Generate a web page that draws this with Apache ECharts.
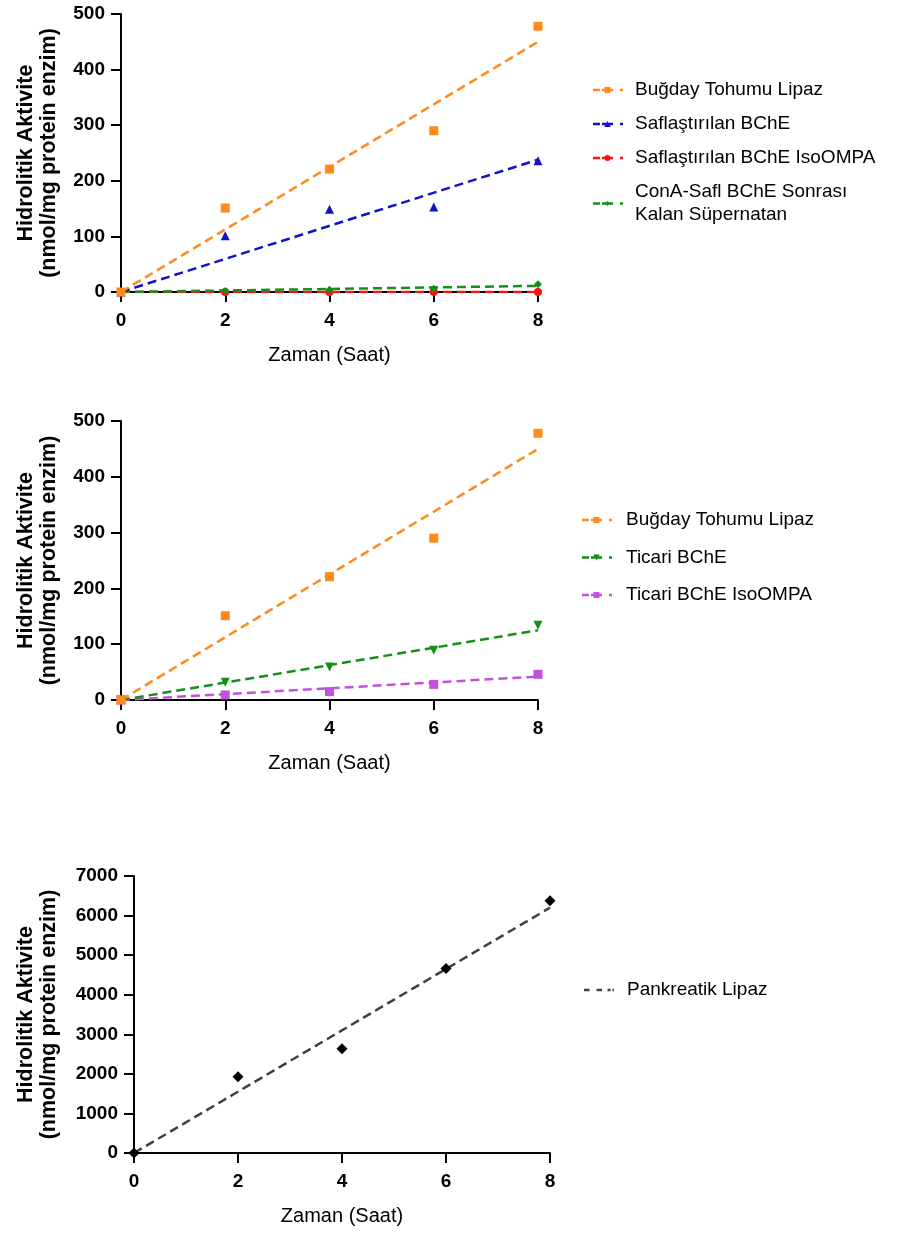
<!DOCTYPE html>
<html>
<head>
<meta charset="utf-8">
<script src="https://cdn.jsdelivr.net/npm/echarts@6/dist/echarts.min.js"></script>
<style>
html,body{margin:0;padding:0;background:#fff;}
#c{width:900px;height:1233px;}
</style>
</head>
<body>
<div id="c"></div>
<script>
// ---------- data ----------
var hours = [0, 2, 4, 6, 8];
var fitHours = [0, 8];

// chart 1
var bugdayLipaz = [0, 151, 221, 290, 478];
var saflBChE = [0, 101, 149, 153, 236];
var saflBChEIso = [0, 0, 0, 0, 0];
var conASupernatan = [0, 2, 4, 6, 14];
var fitBugday = [0, 450];
var fitSaflBChE = [0, 238];
var fitSaflIso = [0, 0];
var fitConA = [0, 11];

// chart 2
var ticariBChE = [0, 32, 59, 89, 134];
var ticariBChEIso = [0, 9, 15, 28, 46];
var fitTicari = [0, 125];
var fitTicariIso = [0, 42];

// chart 3
var pankreatikLipaz = [0, 1925, 2635, 4660, 6375];
var fitPankreatik = [0, 6200];

var xTicks = [0, 2, 4, 6, 8];
var yTicks12 = [0, 100, 200, 300, 400, 500];
var yTicks3 = [0, 1000, 2000, 3000, 4000, 5000, 6000, 7000];

var N1 = 'Buğday Tohumu Lipaz';
var N2 = 'Saflaştırılan BChE';
var N3 = 'Saflaştırılan BChE IsoOMPA';
var N4 = 'ConA-Safl BChE Sonrası\nKalan Süpernatan';
var N5 = 'Ticari BChE';
var N6 = 'Ticari BChE IsoOMPA';
var N7 = 'Pankreatik Lipaz';

// ---------- styles ----------
var FONT = '"Liberation Sans", Arial, sans-serif';
var C = {
  orange: '#FF8A1A',
  blue: '#1212C8',
  red: '#FF1010',
  green: '#12901A',
  purple: '#C052DE',
  black: '#000000',
  gray: '#404040'
};

function pts(vals) { return hours.map(function (h, i) { return [h, vals[i]]; }); }
function fit(vals) { return fitHours.map(function (h, i) { return [h, vals[i]]; }); }

var DASHES = 'M0 3.5 L14 3.5 L14 8.5 L0 8.5 Z M18 3.5 L40 3.5 L40 8.5 L18 8.5 Z M54 3.5 L60 3.5 L60 8.5 L54 8.5 Z ';
var ICON = {
  square: 'path://' + DASHES + 'M23 0 L35 0 L35 12 L23 12 Z',
  triUp: 'path://' + DASHES + 'M29 0 L35.5 12 L22.5 12 Z',
  triDown: 'path://' + DASHES + 'M22.5 0 L35.5 0 L29 12 Z',
  circle: 'path://' + DASHES + 'M23 6 A6 6 0 1 1 35 6 A6 6 0 1 1 23 6 Z',
  diamond: 'path://' + DASHES + 'M29 1 L34 6 L29 11 L24 6 Z',
  plain: 'path://M0 0 L11 0 L11 5 L0 5 Z M25 0 L36 0 L36 5 L25 5 Z M47 0 L53 0 L53 5 L47 5 Z M57 0 L60 0 L60 5 L57 5 Z'
};

function scatter(name, gi, vals, color, symbol, size) {
  return {
    type: 'scatter', name: name, xAxisIndex: gi, yAxisIndex: gi,
    data: pts(vals), symbol: symbol, symbolSize: size,
    itemStyle: { color: color, opacity: 1 }, z: 4, silent: true
  };
}
function fitLine(gi, vals, color, z) {
  return {
    type: 'line', name: 'fit' + gi + color, xAxisIndex: gi, yAxisIndex: gi,
    data: fit(vals), symbol: 'none', silent: true, z: z || 3,
    lineStyle: { color: color, width: 2.5, type: [9, 5] }
  };
}

function xAxis(gi) {
  return {
    type: 'value', gridIndex: gi, min: 0, max: 8, interval: 2,
    name: 'Zaman (Saat)', nameLocation: 'middle', nameGap: 53,
    nameTextStyle: { fontFamily: FONT, fontSize: 20, color: '#000' },
    axisLine: { show: true, onZero: false, lineStyle: { color: '#000', width: 2 } },
    axisTick: { show: true, length: 10, lineStyle: { color: '#000', width: 2 } },
    axisLabel: { fontFamily: FONT, fontSize: 19, fontWeight: 'bold', color: '#000', margin: 19 },
    splitLine: { show: false }
  };
}
function yAxis(gi, max, interval, gap) {
  return {
    type: 'value', gridIndex: gi, min: 0, max: max, interval: interval,
    name: 'Hidrolitik Aktivite\n(nmol/mg protein enzim)', nameLocation: 'middle', nameGap: gap,
    nameTextStyle: { fontFamily: FONT, fontSize: 21.5, fontWeight: 'bold', color: '#000', lineHeight: 23 },
    axisLine: { show: true, onZero: false, lineStyle: { color: '#000', width: 2 } },
    axisTick: { show: true, length: 10, lineStyle: { color: '#000', width: 2 } },
    axisLabel: {
      fontFamily: FONT, fontSize: 19, fontWeight: 'bold', color: '#000', margin: 16,
      formatter: function (v) { return String(v); }
    },
    splitLine: { show: false }
  };
}
function legend(left, top, gap, pad, items) {
  return {
    orient: 'vertical', left: left, top: top, itemGap: gap,
    itemWidth: 30, itemHeight: 6, selectedMode: false,
    textStyle: { fontFamily: FONT, fontSize: 19, color: '#000', lineHeight: 23, padding: [0, 0, 0, pad] },
    data: items
  };
}

var option = {
  animation: false,
  backgroundColor: '#fff',
  grid: [
    { left: 121, width: 417, top: 14, height: 278 },
    { left: 121, width: 417, top: 421, height: 279 },
    { left: 134, width: 416, top: 876, height: 277 }
  ],
  xAxis: [xAxis(0), xAxis(1), xAxis(2)],
  yAxis: [yAxis(0, 500, 100, 60), yAxis(1, 500, 100, 60), yAxis(2, 7000, 1000, 73)],
  legend: [
    legend(588, 73.5, 11, 7, [
      { name: N1, icon: ICON.square },
      { name: N2, icon: ICON.triUp },
      { name: N3, icon: ICON.circle },
      { name: N4, icon: ICON.diamond }
    ]),
    legend(577, 503.5, 14.5, 9, [
      { name: N1, icon: ICON.square },
      { name: N5, icon: ICON.triDown },
      { name: N6, icon: ICON.square }
    ]),
    {
      orient: 'vertical', left: 579, top: 973.5, itemWidth: 30, itemHeight: 2.5, selectedMode: false,
      textStyle: { fontFamily: FONT, fontSize: 19, color: '#000', lineHeight: 23, padding: [0, 0, 0, 8] },
      data: [{ name: N7, icon: ICON.plain, itemStyle: { color: C.gray } }]
    }
  ],
  series: [
    // chart 1
    fitLine(0, fitSaflIso, C.red, 3),
    fitLine(0, fitConA, C.green, 3),
    fitLine(0, fitSaflBChE, C.blue, 3),
    fitLine(0, fitBugday, C.orange, 3),
    scatter(N3, 0, saflBChEIso, C.red, 'circle', 8),
    scatter(N4, 0, conASupernatan, C.green, 'diamond', 8),
    scatter(N2, 0, saflBChE, C.blue, 'triangle', 9),
    scatter(N1, 0, bugdayLipaz, C.orange, 'rect', 9),
    // chart 2
    fitLine(1, fitTicariIso, C.purple, 3),
    fitLine(1, fitTicari, C.green, 3),
    fitLine(1, fitBugday, C.orange, 3),
    scatter(N6, 1, ticariBChEIso, C.purple, 'rect', 9),
    scatter(N5, 1, ticariBChE, C.green, 'path://M0 0 L10 0 L5 10 Z', 9),
    scatter(N1, 1, bugdayLipaz, C.orange, 'rect', 9),
    // chart 3
    {
      type: 'line', name: N7, xAxisIndex: 2, yAxisIndex: 2, data: fit(fitPankreatik),
      symbol: 'none', silent: true, z: 3, itemStyle: { color: C.gray },
      lineStyle: { color: C.gray, width: 2.5, type: [9, 5] }
    },
    scatter('pankreatik-points', 2, pankreatikLipaz, C.black, 'diamond', 11)
  ]
};

var chart = echarts.init(document.getElementById('c'), null, { renderer: 'canvas' });
chart.setOption(option);
</script>
</body>
</html>
